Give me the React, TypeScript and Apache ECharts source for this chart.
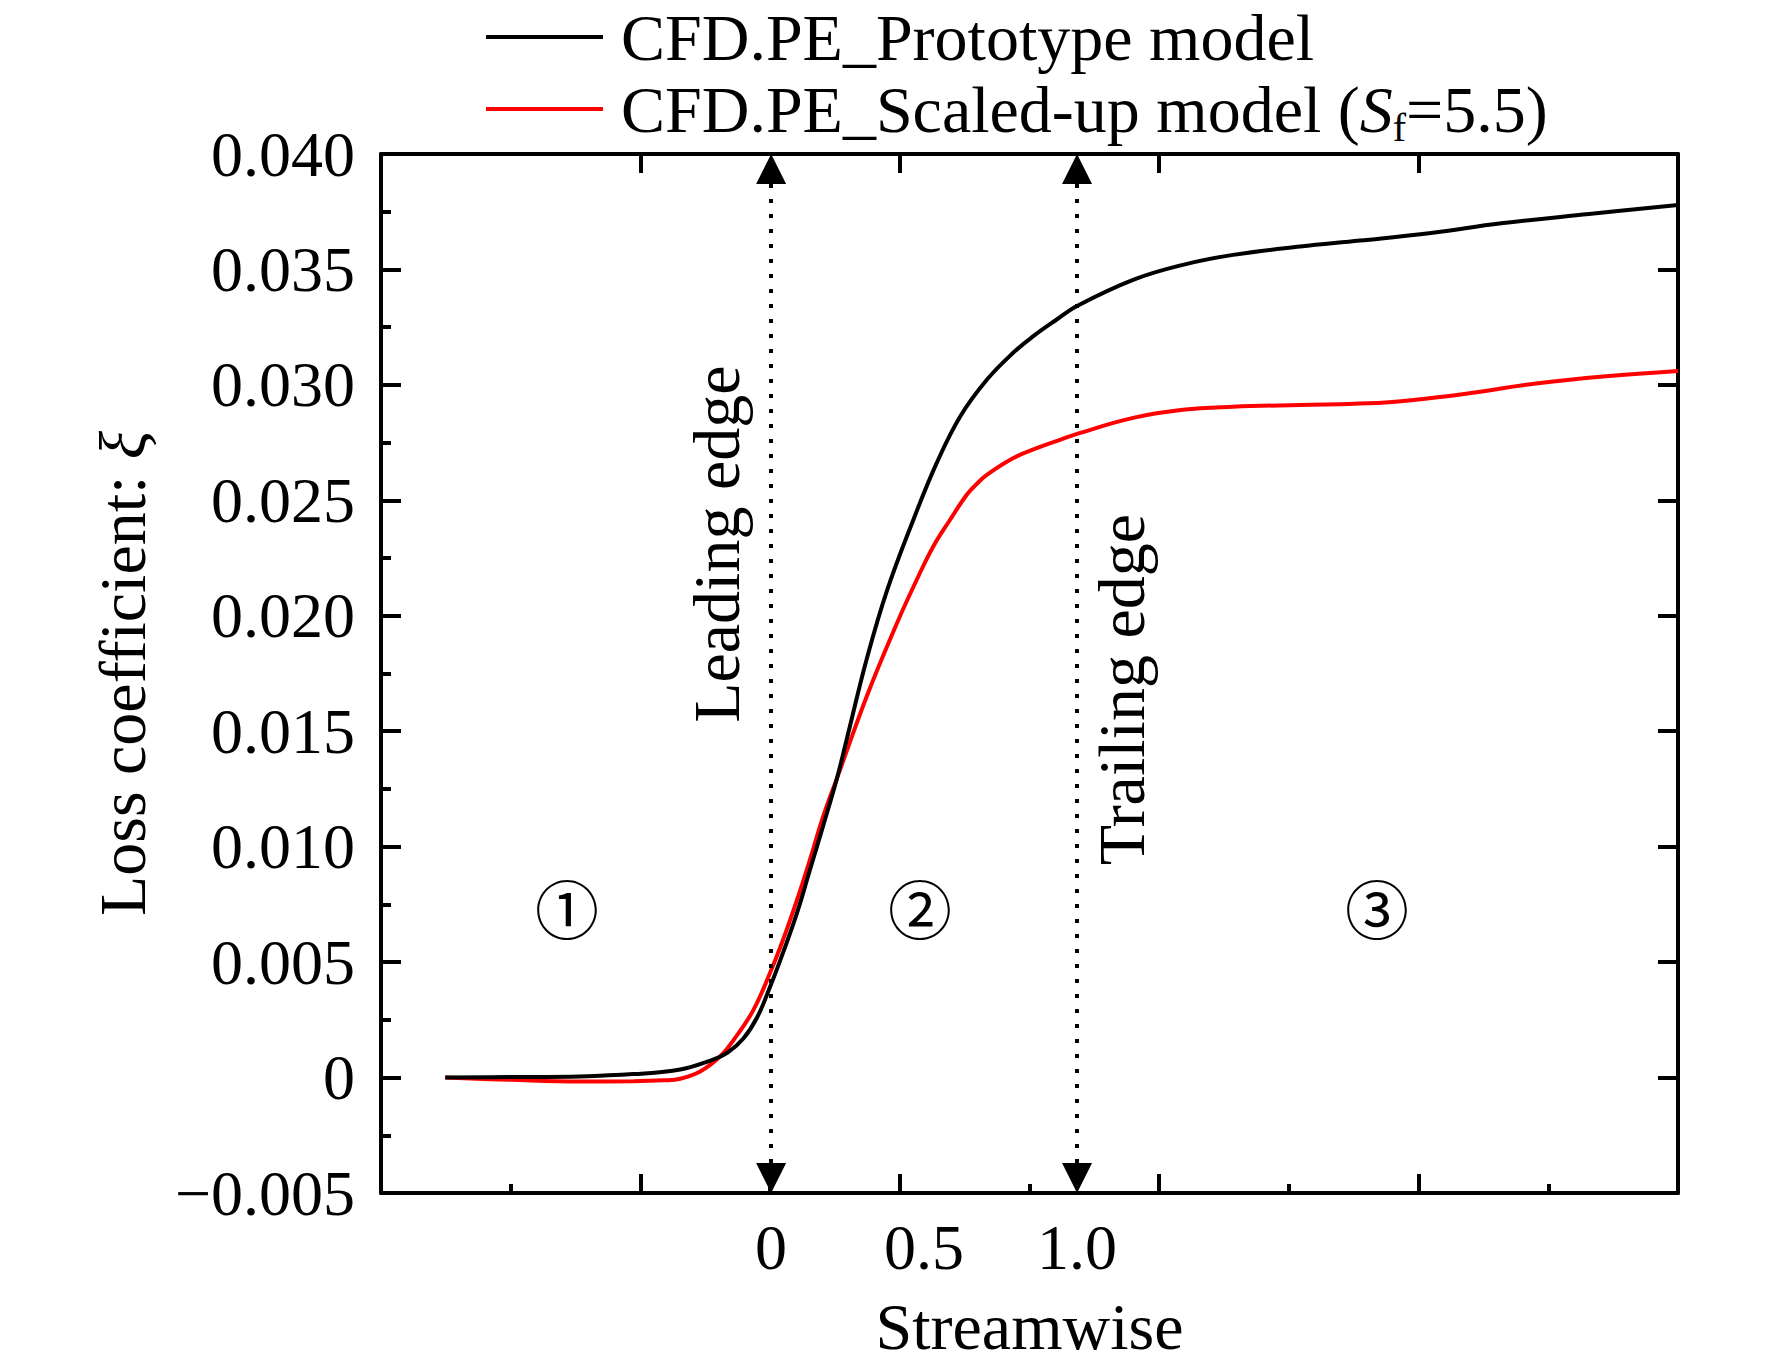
import { useEffect, useRef } from 'react'
import * as echarts from 'echarts'

// streamwise position (0 = leading edge, 1 = trailing edge) and loss coefficient
const prototypeX = [
  -1.065, -0.85, -0.624, -0.45, -0.297, -0.19, -0.14, -0.09, -0.046, -0.003, 0.039, 0.085, 0.127, 0.17,
  0.216, 0.248, 0.314, 0.379, 0.465, 0.541, 0.618, 0.705, 0.792, 0.856, 0.93, 1.0, 1.183, 1.346, 1.51,
  1.729, 1.925, 2.157, 2.386, 2.673, 2.964
]
const prototypeY = [
  0.0, 0.00002, 0.00005, 0.00015, 0.00035, 0.00078, 0.0011, 0.0017, 0.0026, 0.00394, 0.00541, 0.00714,
  0.009, 0.0109, 0.013, 0.0147, 0.0182, 0.0211, 0.02416, 0.02661, 0.02863, 0.03022, 0.0314, 0.0321,
  0.0328, 0.03342, 0.03455, 0.0352, 0.03563, 0.03599, 0.03625, 0.03658, 0.037, 0.0374, 0.03779
]
const scaledX = [
  -1.065, -0.85, -0.624, -0.45, -0.35, -0.297, -0.232, -0.167, -0.124, -0.059, -0.003, 0.039, 0.085,
  0.127, 0.17, 0.219, 0.314, 0.412, 0.476, 0.53, 0.585, 0.64, 0.67, 0.705, 0.792, 0.868, 0.944, 1.0,
  1.183, 1.346, 1.51, 1.729, 1.95, 2.1, 2.271, 2.5, 2.729, 2.964
]
const scaledY = [
  0.0, -0.0001, -0.00017, -0.00016, -0.00012, -0.00005, 0.00026, 0.00091, 0.0016, 0.0029, 0.00455,
  0.00597, 0.00771, 0.00944, 0.0113, 0.0131, 0.01656, 0.0197, 0.02156, 0.023, 0.02416, 0.02525, 0.02568,
  0.0261, 0.02683, 0.02726, 0.02762, 0.02788, 0.02857, 0.02892, 0.02905, 0.02913, 0.0292, 0.02935,
  0.02962, 0.03006, 0.03037, 0.0306
]

const seriesNames = ['CFD.PE_Prototype model', 'CFD.PE_Scaled-up model (Sf=5.5)']
const xTickLabels = [0, 0.5, 1.0]
const edgePositions = [0, 1]
const edgeLabels = [
  { name: 'Leading edge', x: -0.18, y: 0.0231 },
  { name: 'Trailing edge', x: 1.145, y: 0.0168 }
]
const zoneLabels = [
  { name: '①', x: -0.667, y: 0.00714 },
  { name: '②', x: 0.487, y: 0.00714 },
  { name: '③', x: 1.98, y: 0.00714 }
]

const FONT = "'Liberation Serif', 'Times New Roman', serif"
const XMIN = -1.275
const XMAX = 2.964
const YMIN = -0.005
const YMAX = 0.04
const ARROW_INSET = 0.00065

const zip = (xs: number[], ys: number[]) => xs.map((x, i) => [x, ys[i]])

export default function App() {
  const ref = useRef<HTMLDivElement | null>(null)

  useEffect(() => {
    if (!ref.current) return
    document.body.style.margin = '0'
    const chart = echarts.init(ref.current, null, { renderer: 'svg' })

    const axisLine = { show: true, onZero: false, lineStyle: { color: '#000', width: 4 } }
    const majorTick = (length: number) => ({
      show: true,
      inside: true,
      length,
      lineStyle: { color: '#000', width: 4 }
    })

    const option = {
      animation: false,
      backgroundColor: '#fff',
      grid: { left: 381, right: 94, top: 154, bottom: 176 },
      legend: {
        data: seriesNames,
        orient: 'vertical',
        left: 486,
        top: 3,
        padding: 0,
        itemGap: 0,
        icon: 'rect',
        itemWidth: 117,
        itemHeight: 4,
        formatter: (name: string) =>
          name === seriesNames[1]
            ? '{sp|}{n|CFD.PE_Scaled-up model (}{i|S}{sub|f}{n|=5.5)}'
            : '{sp|}{n|' + name + '}',
        textStyle: {
          fontFamily: FONT,
          fontSize: 66,
          lineHeight: 68,
          color: '#000',
          rich: {
            sp: { width: 13, lineHeight: 68 },
            n: { fontFamily: FONT, fontSize: 66, lineHeight: 68, color: '#000' },
            i: { fontFamily: FONT, fontSize: 66, lineHeight: 68, fontStyle: 'italic', color: '#000' },
            sub: { fontFamily: FONT, fontSize: 40, lineHeight: 32, padding: [36, 0, 0, 0], color: '#000' }
          }
        }
      },
      xAxis: [
        {
          type: 'value',
          min: XMIN,
          max: XMAX,
          position: 'bottom',
          name: 'Streamwise',
          nameLocation: 'middle',
          nameGap: 100,
          nameTextStyle: { fontFamily: FONT, fontSize: 66, color: '#000' },
          axisLine,
          axisTick: { show: false },
          splitLine: { show: false },
          axisLabel: {
            customValues: xTickLabels,
            formatter: (v: number) => (v === 0 ? '0' : v.toFixed(1)),
            fontFamily: FONT,
            fontSize: 64,
            color: '#000',
            margin: 22
          }
        },
        {
          type: 'value',
          min: 0,
          max: 10,
          interval: 2,
          position: 'bottom',
          axisLine: { show: false, onZero: false },
          axisTick: majorTick(19),
          minorTick: { show: true, splitNumber: 2, length: 9, lineStyle: { color: '#000', width: 4 } },
          axisLabel: { show: false },
          splitLine: { show: false }
        },
        {
          type: 'value',
          min: 0,
          max: 10,
          interval: 2,
          position: 'top',
          axisLine,
          axisTick: majorTick(19),
          axisLabel: { show: false },
          splitLine: { show: false }
        }
      ],
      yAxis: [
        {
          type: 'value',
          min: YMIN,
          max: YMAX,
          interval: 0.005,
          position: 'left',
          name: '{a|Loss coefficient: }{b|ξ}',
          nameLocation: 'middle',
          nameGap: 226,
          nameTextStyle: {
            fontFamily: FONT,
            fontSize: 66,
            color: '#000',
            rich: {
              a: { fontFamily: FONT, fontSize: 66, color: '#000' },
              b: { fontFamily: FONT, fontSize: 66, fontStyle: 'italic', color: '#000' }
            }
          },
          axisLine,
          axisTick: majorTick(20),
          minorTick: { show: true, splitNumber: 2, length: 10, lineStyle: { color: '#000', width: 4 } },
          splitLine: { show: false },
          axisLabel: {
            fontFamily: FONT,
            fontSize: 64,
            color: '#000',
            margin: 26,
            formatter: (v: number) => {
              if (Math.abs(v) < 1e-9) return '0'
              const s = Math.abs(v).toFixed(3)
              return v < 0 ? '\u2212' + s : s
            }
          }
        },
        {
          type: 'value',
          min: YMIN,
          max: YMAX,
          interval: 0.005,
          position: 'right',
          axisLine,
          axisTick: majorTick(20),
          axisLabel: { show: false },
          splitLine: { show: false }
        }
      ],
      series: [
        {
          name: seriesNames[0],
          type: 'line',
          xAxisIndex: 0,
          yAxisIndex: 0,
          data: zip(prototypeX, prototypeY),
          symbol: 'none',
          smooth: 0.4,
          lineStyle: { color: '#000', width: 4 },
          itemStyle: { color: '#000' },
          z: 3,
          markLine: {
            silent: true,
            symbol: ['triangle', 'triangle'],
            symbolSize: [30, 30],
            label: { show: false },
            lineStyle: { color: '#000', width: 4, type: [4, 11] },
            itemStyle: { color: '#000' },
            emphasis: { disabled: true },
            data: edgePositions.map((x) => [
              { coord: [x, YMIN + ARROW_INSET] },
              { coord: [x, YMAX - ARROW_INSET] }
            ])
          },
          markPoint: {
            silent: true,
            symbol: 'circle',
            symbolSize: 1,
            itemStyle: { color: 'rgba(0,0,0,0)' },
            label: {
              show: true,
              position: 'inside',
              formatter: '{b}',
              color: '#000',
              fontFamily: FONT,
              fontSize: 66
            },
            data: [
              ...edgeLabels.map((d) => ({
                name: d.name,
                coord: [d.x, d.y],
                label: { rotate: 90 }
              })),
              ...zoneLabels.map((d) => ({
                name: d.name,
                coord: [d.x, d.y],
                label: {
                  fontSize: 64,
                  fontFamily: "'Liberation Serif', 'DejaVu Serif', 'Noto Sans CJK SC', serif"
                }
              }))
            ]
          }
        },
        {
          name: seriesNames[1],
          type: 'line',
          xAxisIndex: 0,
          yAxisIndex: 0,
          data: zip(scaledX, scaledY),
          symbol: 'none',
          smooth: 0.4,
          lineStyle: { color: '#ff0000', width: 4 },
          itemStyle: { color: '#ff0000' },
          z: 2
        }
      ]
    }

    chart.setOption(option)
    return () => chart.dispose()
  }, [])

  return <div ref={ref} style={{ width: 1772, height: 1369 }} />
}
